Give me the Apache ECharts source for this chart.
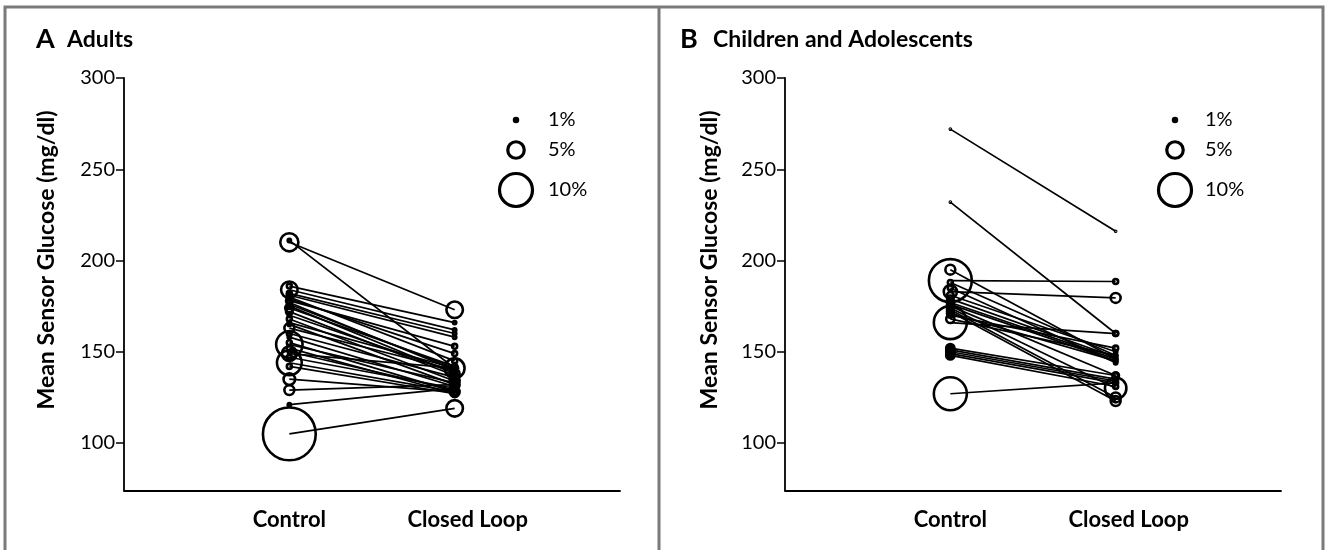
<!DOCTYPE html>
<html>
<head>
<meta charset="utf-8">
<script src="https://cdn.jsdelivr.net/npm/echarts@6/dist/echarts.min.js"></script>
<style>html,body{margin:0;padding:0;background:#fff}#c{width:1328px;height:550px}</style>
</head>
<body>
<div id="c"></div>
<script>
// ---- Data ----
const groups = ['Control', 'Closed Loop'];
const yTicks = [100, 150, 200, 250, 300];
const legendPcts = [1, 5, 10];

// Panel A: Adults (mean sensor glucose, mg/dl) and % time (circle size)
const adultControl = [211, 210, 186, 184, 182, 181, 180, 179, 178, 177, 176, 175, 174, 172, 170, 168, 166, 165, 163, 160, 158, 155, 154, 152, 150, 149, 147, 144, 142, 135, 129, 121, 105];
const adultClosed  = [141, 173, 166, 162, 160, 158, 145, 149, 153, 140, 141, 138, 142, 137, 139, 134, 141, 132, 140, 136, 131, 128, 133, 127, 129, 141, 130, 128, 127, 128, 132, 130, 119];
const adultControlPct = [1, 5.5, 1.5, 5, 1.5, 1.5, 1.5, 1, 2, 1.5, 1, 1.5, 2.5, 2, 1, 1.5, 1, 1, 3, 1.5, 1, 1.5, 8, 1.5, 1, 4.5, 1.5, 7.5, 1.5, 3.5, 3, 1, 16];
const adultClosedPct  = [1.5, 5, 1, 1, 1, 1, 1.5, 1.5, 1.5, 1.5, 6, 3, 1.5, 2, 1.5, 3, 2, 3, 1.5, 2, 1.5, 3, 1.5, 2, 1.5, 2, 2, 2, 2, 2, 1.5, 1.5, 5];

// Panel B: Children and Adolescents
const childControl = [272, 232, 195, 189, 188, 183, 181, 179, 177, 176, 175, 174, 173, 172, 171, 170, 168, 166, 152, 151, 150, 149, 148, 127, 185];
const childClosed  = [216, 160, 146, 188.5, 148, 179.5, 150, 147, 146, 145, 137, 130, 125, 123, 145, 152, 148, 160, 137, 135, 134, 133, 131, 133, 144];
const childControlPct = [0.3, 0.3, 3, 13, 1.5, 4, 2, 2, 2, 2, 2, 1.5, 2, 2, 2, 1.5, 2.5, 10, 2.5, 2.5, 2.5, 2.5, 2.5, 10, 1.5];
const childClosedPct  = [0.3, 1.5, 1, 1.5, 1, 3, 1, 1, 1, 1, 2, 6.5, 3, 3, 1, 1.5, 1, 1.5, 1.5, 1.5, 1, 1, 1.5, 1.5, 1];

// ---- Chart ----
const FONT = 'Lato, "DejaVu Sans", sans-serif';
const PX_PER_PCT = 3.3;
const chart = echarts.init(document.getElementById('c'), null, {renderer: 'canvas'});

function xAxisCfg(gi) {
  return {
    type: 'value', gridIndex: gi, min: 0, max: 3,
    splitLine: {show: false},
    axisLine: {show: true, lineStyle: {color: '#000', width: 1.8}},
    axisTick: {show: false},
    axisLabel: {
      customValues: [1, 2], margin: 18,
      formatter: v => v === 2 ? '{cl|' + groups[1] + '}' : (groups[v - 1] || ''),
      color: '#000', fontFamily: FONT, fontWeight: 'bold', fontSize: 22,
      rich: {cl: {fontFamily: FONT, fontWeight: 'bold', fontSize: 22, color: '#000', padding: [0, 0, 0, 26]}}
    }
  };
}
function yAxisCfg(gi) {
  return {
    type: 'value', gridIndex: gi, min: 74, max: 300,
    splitLine: {show: false},
    axisLine: {show: true, lineStyle: {color: '#000', width: 1.8}},
    axisTick: {show: true, customValues: yTicks, length: 8, lineStyle: {color: '#000', width: 1.5}},
    axisLabel: {customValues: yTicks, margin: 9, color: '#000', fontFamily: FONT, fontSize: 20}
  };
}
function panelSeries(ctrl, cl, pc, pl, axisIdx) {
  return ctrl.map((c, i) => ({
    type: 'line',
    xAxisIndex: axisIdx, yAxisIndex: axisIdx,
    data: [[1, c, pc[i]], [2, cl[i], pl[i]]],
    symbol: 'circle',
    symbolSize: v => Math.max(v[2] * PX_PER_PCT, 1),
    showSymbol: true,
    animation: false,
    silent: true,
    lineStyle: {color: '#000', width: 1.7},
    itemStyle: {color: 'rgba(0,0,0,0)', borderColor: '#000', borderWidth: 2.6},
    z: 2
  }));
}
function legendGraphics(cx, tx) {
  const ys = [120, 150, 190];
  const out = [];
  legendPcts.forEach((p, i) => {
    out.push({type: 'circle', shape: {cx: cx, cy: ys[i], r: p * PX_PER_PCT / 2},
      style: {fill: p === 1 ? '#000' : 'none', stroke: '#000', lineWidth: 3.2}});
    out.push({type: 'text', x: tx, y: ys[i],
      style: {text: p + '%', fontFamily: FONT, fontSize: 20, fill: '#000', textVerticalAlign: 'middle'}});
  });
  return out;
}

const option = {
  backgroundColor: '#fff',
  animation: false,
  grid: [
    {left: 124, top: 78, width: 496, height: 412.5},
    {left: 785, top: 78, width: 496, height: 412.5}
  ],
  xAxis: [xAxisCfg(0), xAxisCfg(1)],
  yAxis: [yAxisCfg(0), yAxisCfg(1)],
  series: [].concat(
    panelSeries(adultControl, adultClosed, adultControlPct, adultClosedPct, 0),
    panelSeries(childControl, childClosed, childControlPct, childClosedPct, 1)
  ),
  graphic: [
    {type: 'rect', shape: {x: 5, y: 7, width: 1318, height: 560}, style: {fill: 'none', stroke: '#7a7a7a', lineWidth: 3}},
    {type: 'line', shape: {x1: 659, y1: 7, x2: 659, y2: 560}, style: {stroke: '#7a7a7a', lineWidth: 3}},
    {type: 'text', x: 36, y: 39, style: {text: 'A', fontFamily: FONT, fontWeight: 'bold', fontSize: 27, fill: '#000', textVerticalAlign: 'middle'}},
    {type: 'text', x: 67, y: 40, style: {text: 'Adults', fontFamily: FONT, fontWeight: 'bold', fontSize: 23, fill: '#000', textVerticalAlign: 'middle'}},
    {type: 'text', x: 680, y: 39, style: {text: 'B', fontFamily: FONT, fontWeight: 'bold', fontSize: 27, fill: '#000', textVerticalAlign: 'middle'}},
    {type: 'text', x: 713, y: 40, style: {text: 'Children and Adolescents', fontFamily: FONT, fontWeight: 'bold', fontSize: 23, fill: '#000', textVerticalAlign: 'middle'}},
    {type: 'text', x: 47, y: 260, rotation: Math.PI / 2, style: {text: 'Mean Sensor Glucose (mg/dl)', fontFamily: FONT, fontWeight: 'bold', fontSize: 23, fill: '#000', textAlign: 'center', textVerticalAlign: 'middle'}},
    {type: 'text', x: 710, y: 260, rotation: Math.PI / 2, style: {text: 'Mean Sensor Glucose (mg/dl)', fontFamily: FONT, fontWeight: 'bold', fontSize: 23, fill: '#000', textAlign: 'center', textVerticalAlign: 'middle'}}
  ].concat(legendGraphics(516, 548), legendGraphics(1175, 1205))
};
chart.setOption(option);
</script>
</body>
</html>
